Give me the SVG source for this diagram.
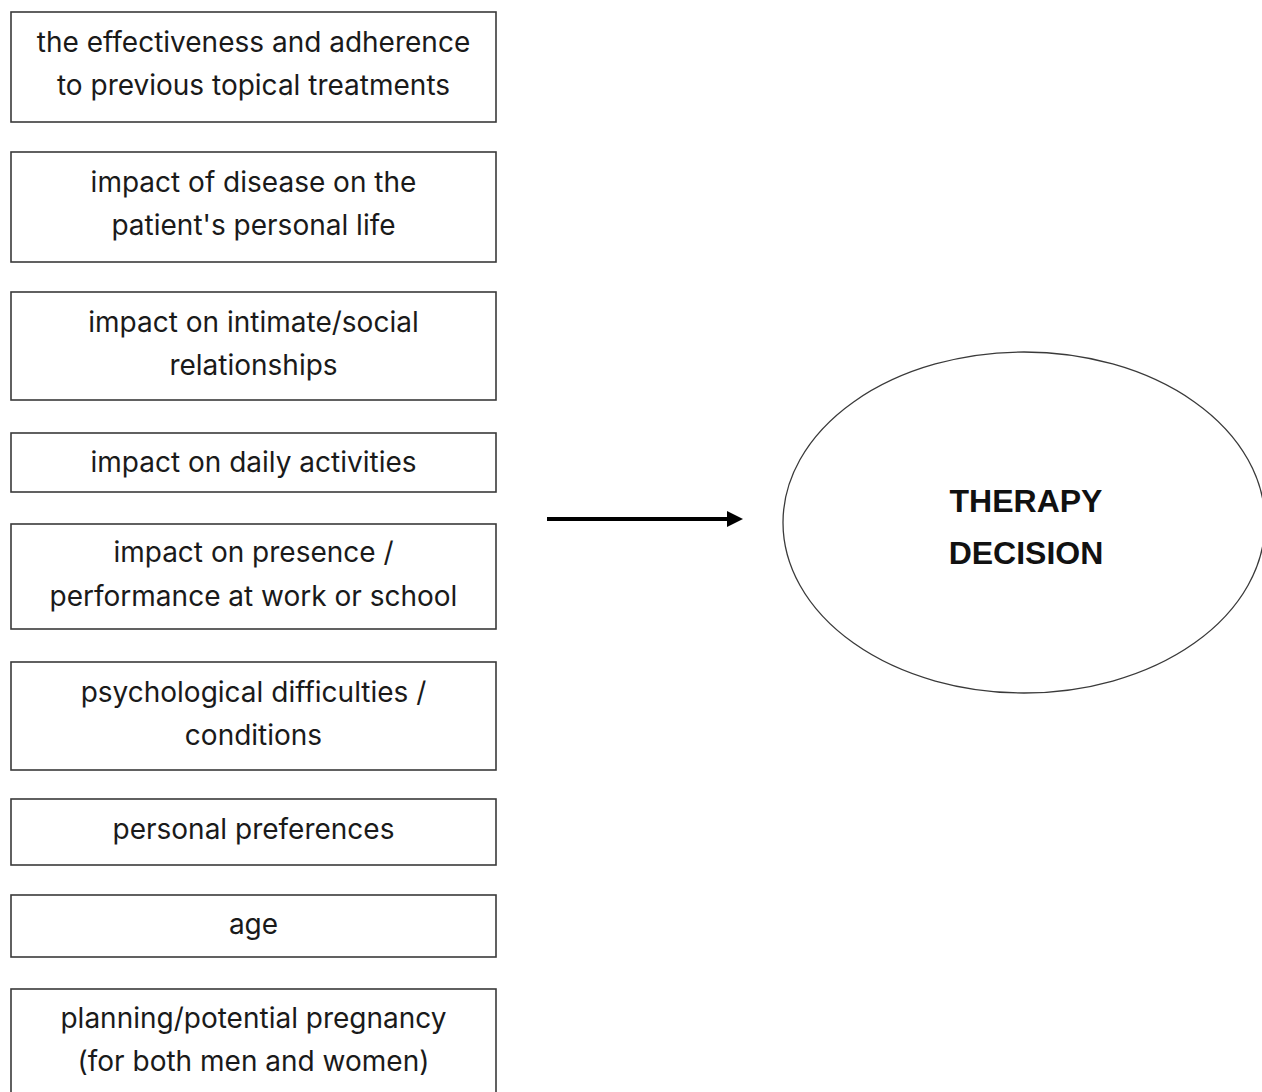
<svg xmlns="http://www.w3.org/2000/svg" width="1262" height="1092" viewBox="0 0 1262 1092">
<defs>
<style>
.box{fill:#fff;stroke:#3a3a3a;stroke-width:1.6}
.t{font-family:Inter,"Noto Sans","Liberation Sans",sans-serif;font-size:28px;fill:#1a1a1a;text-anchor:middle}
.b{font-family:"Liberation Sans",Arial,sans-serif;font-weight:bold;font-size:32px;fill:#111;text-anchor:middle}
.ell{fill:#fff;stroke:#3a3a3a;stroke-width:1.3}
.conn{stroke:#000;stroke-width:4;fill:none}
</style>
<marker id="ah" markerWidth="16" markerHeight="16" refX="0" refY="8" orient="auto" markerUnits="userSpaceOnUse" viewBox="0 0 16 16">
<path d="M0,0 L16,8 L0,16 z" fill="#000"/>
</marker>
</defs>
<rect width="1262" height="1092" fill="#fff"/>
<g id="n1"><rect class="box" x="11" y="12" width="485" height="110"/><text class="t" x="253.5" y="52">the effectiveness and adherence</text><text class="t" x="253.5" y="95">to previous topical treatments</text></g>
<g id="n2"><rect class="box" x="11" y="152" width="485" height="110"/><text class="t" x="253.5" y="192">impact of disease on the</text><text class="t" x="253.5" y="235">patient's personal life</text></g>
<g id="n3"><rect class="box" x="11" y="292" width="485" height="108"/><text class="t" x="253.5" y="332">impact on intimate/social</text><text class="t" x="253.5" y="375">relationships</text></g>
<g id="n4"><rect class="box" x="11" y="433" width="485" height="59"/><text class="t" x="253.5" y="472">impact on daily activities</text></g>
<g id="n5"><rect class="box" x="11" y="524" width="485" height="105"/><text class="t" x="253.5" y="562">impact on presence /</text><text class="t" x="253.5" y="606">performance at work or school</text></g>
<g id="n6"><rect class="box" x="11" y="662" width="485" height="108"/><text class="t" x="253.5" y="702">psychological difficulties /</text><text class="t" x="253.5" y="745">conditions</text></g>
<g id="n7"><rect class="box" x="11" y="799" width="485" height="66"/><text class="t" x="253.5" y="839">personal preferences</text></g>
<g id="n8"><rect class="box" x="11" y="895" width="485" height="62"/><text class="t" x="253.5" y="934">age</text></g>
<g id="n9"><rect class="box" x="11" y="989" width="485" height="110"/><text class="t" x="253.5" y="1028">planning/potential pregnancy</text><text class="t" x="253.5" y="1071">(for both men and women)</text></g>
<g id="decision"><ellipse class="ell" cx="1024" cy="522.5" rx="241" ry="170.5"/><text class="b" x="1026" y="512">THERAPY</text><text class="b" x="1026" y="564">DECISION</text></g>
<g id="connectors"><line class="conn" x1="547" y1="519" x2="727" y2="519" marker-end="url(#ah)"/></g>
</svg>
